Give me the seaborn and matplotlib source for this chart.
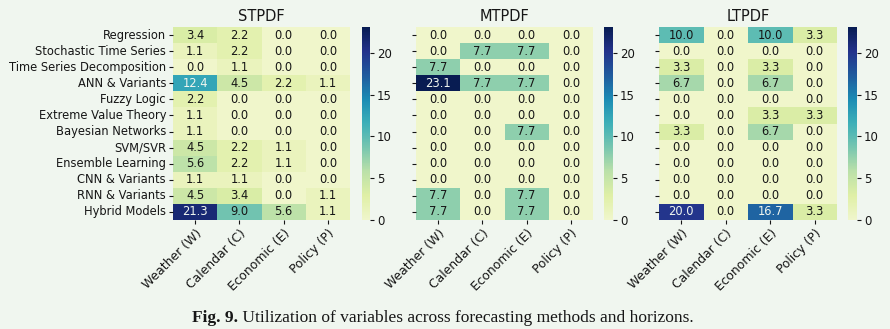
import numpy as np
import pandas as pd
import matplotlib
matplotlib.use("Agg")
import matplotlib.pyplot as plt
from matplotlib.colors import ListedColormap
import seaborn as sns

methods = ["Regression", "Stochastic Time Series", "Time Series Decomposition",
           "ANN & Variants", "Fuzzy Logic", "Extreme Value Theory",
           "Bayesian Networks", "SVM/SVR", "Ensemble Learning",
           "CNN & Variants", "RNN & Variants", "Hybrid Models"]
variables = ["Weather (W)", "Calendar (C)", "Economic (E)", "Policy (P)"]

stpdf = [[3.4, 2.2, 0.0, 0.0],
         [1.1, 2.2, 0.0, 0.0],
         [0.0, 1.1, 0.0, 0.0],
         [12.4, 4.5, 2.2, 1.1],
         [2.2, 0.0, 0.0, 0.0],
         [1.1, 0.0, 0.0, 0.0],
         [1.1, 0.0, 0.0, 0.0],
         [4.5, 2.2, 1.1, 0.0],
         [5.6, 2.2, 1.1, 0.0],
         [1.1, 1.1, 0.0, 0.0],
         [4.5, 3.4, 0.0, 1.1],
         [21.3, 9.0, 5.6, 1.1]]
mtpdf = [[0.0, 0.0, 0.0, 0.0],
         [0.0, 7.7, 7.7, 0.0],
         [7.7, 0.0, 0.0, 0.0],
         [23.1, 7.7, 7.7, 0.0],
         [0.0, 0.0, 0.0, 0.0],
         [0.0, 0.0, 0.0, 0.0],
         [0.0, 0.0, 7.7, 0.0],
         [0.0, 0.0, 0.0, 0.0],
         [0.0, 0.0, 0.0, 0.0],
         [0.0, 0.0, 0.0, 0.0],
         [7.7, 0.0, 7.7, 0.0],
         [7.7, 0.0, 7.7, 0.0]]
ltpdf = [[10.0, 0.0, 10.0, 3.3],
         [0.0, 0.0, 0.0, 0.0],
         [3.3, 0.0, 3.3, 0.0],
         [6.7, 0.0, 6.7, 0.0],
         [0.0, 0.0, 0.0, 0.0],
         [0.0, 0.0, 3.3, 3.3],
         [3.3, 0.0, 6.7, 0.0],
         [0.0, 0.0, 0.0, 0.0],
         [0.0, 0.0, 0.0, 0.0],
         [0.0, 0.0, 0.0, 0.0],
         [0.0, 0.0, 0.0, 0.0],
         [20.0, 0.0, 16.7, 3.3]]
titles = ["STPDF", "MTPDF", "LTPDF"]

tint = np.array([240, 246, 239]) / 255.0
bg = tuple(tint)
base = plt.get_cmap("YlGnBu")(np.linspace(0, 1, 256))
base[:, :3] = base[:, :3] * tint
cmap = ListedColormap(base)
txt_dark = "#161616"

W, H = 890, 329
fig = plt.figure(figsize=(W / 100, H / 100), dpi=100, facecolor=bg)

def box(x0, x1, y0, y1):
    return [x0 / W, 1 - y1 / H, (x1 - x0) / W, (y1 - y0) / H]

hm_x = [(173, 350), (416, 593), (659, 837)]
cb_x = [(362, 370), (604, 613), (848, 857)]
y0, y1 = 27, 220
vmax = max(np.max(stpdf), np.max(mtpdf), np.max(ltpdf))

for i, (data, title) in enumerate(zip([stpdf, mtpdf, ltpdf], titles)):
    ax = fig.add_axes(box(*hm_x[i], y0, y1))
    cax = fig.add_axes(box(*cb_x[i], y0, y1))
    df = pd.DataFrame(data, index=methods, columns=variables)
    sns.heatmap(df, ax=ax, cbar_ax=cax, cmap=cmap, vmin=0, vmax=vmax,
                annot=True, fmt=".1f", annot_kws={"fontsize": 8.3})
    for t in ax.texts:
        if t.get_color() in ("w", "white", "#ffffff"):
            t.set_color(bg)
        else:
            t.set_color(txt_dark)
    ax.set_facecolor(bg)
    ax.set_title(title, fontsize=10.5, pad=4, color=txt_dark)
    ax.set_xticklabels(variables, rotation=45, ha="right",
                       rotation_mode="anchor", fontsize=8.9, color=txt_dark)
    if i == 0:
        ax.set_yticklabels(methods, rotation=0, fontsize=8.3, color=txt_dark)
    else:
        ax.set_yticklabels([""] * len(methods))
    ax.tick_params(length=3, width=0.8, pad=2, color=txt_dark)
    cax.tick_params(labelsize=8.5, length=3, width=0.8, pad=2,
                    color=txt_dark, labelcolor=txt_dark)
    cax.set_yticks([0, 5, 10, 15, 20])

# caption
cap_y = 1 - 322 / H
t1 = fig.text(0, cap_y, "Fig. 9.", fontsize=12.5, fontweight="bold",
              family="Liberation Serif", va="baseline", ha="left", color=txt_dark)
t2text = " Utilization of variables across forecasting methods and horizons."
t2 = fig.text(0, cap_y, t2text, fontsize=12.5,
              family="Liberation Serif", va="baseline", ha="left", color=txt_dark)
fig.canvas.draw()
r = fig.canvas.get_renderer()
w1 = t1.get_window_extent(r).width
w2 = t2.get_window_extent(r).width
start = (443 - (w1 + w2) / 2)
t1.set_x(start / W)
t2.set_x((start + w1) / W)

fig.savefig("out.png", dpi=100, facecolor=bg)
